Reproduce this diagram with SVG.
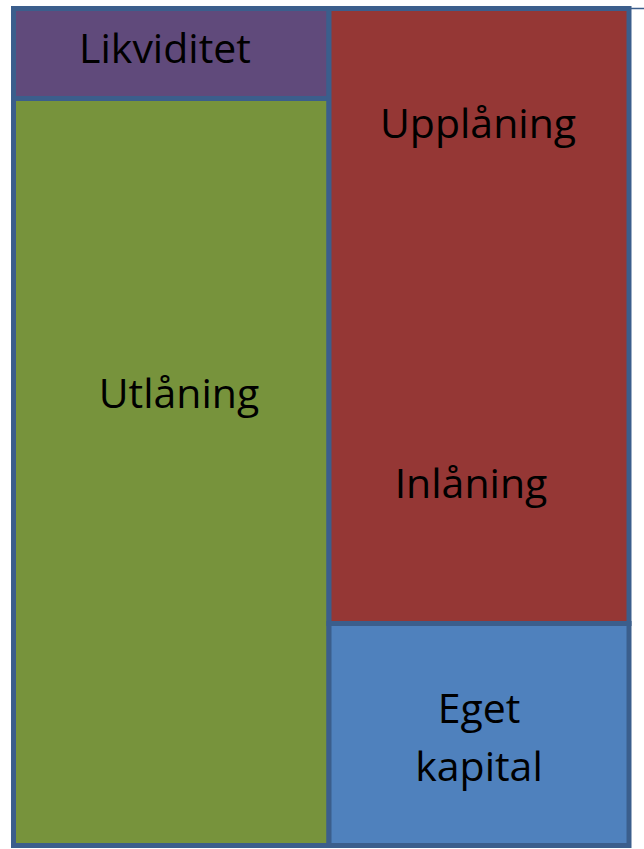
<svg xmlns="http://www.w3.org/2000/svg" width="644" height="849" viewBox="0 0 644 849">
<style>
.box{stroke:#3B5E8C;stroke-width:5}
text{font-family:"Open Sans","Noto Sans",sans-serif;font-size:41px;fill:#000;text-anchor:middle}
</style>
<rect width="644" height="849" fill="#fff"/>
<g id="likviditet"><rect class="box" x="13.5" y="8.5" width="315.5" height="90" fill="#604A7B"/><text x="165" y="63">Likviditet</text></g>
<g id="utlaning"><rect class="box" x="13.5" y="98.5" width="315.5" height="747" fill="#77933C"/><text x="179" y="408">Utlåning</text></g>
<g id="upplaning"><rect class="box" x="329" y="8.5" width="300" height="615" fill="#953735"/><text x="478" y="138">Upplåning</text><text x="471" y="498">Inlåning</text></g>
<g id="eget"><rect class="box" x="329" y="623.5" width="300" height="222" fill="#4F81BD"/><text x="479" y="723">Eget</text><text x="479" y="781">kapital</text></g>
<g id="connectors"><line x1="631" y1="8.5" x2="644" y2="8.5" stroke="#3B5E8C" stroke-width="1.5"/></g>
</svg>
